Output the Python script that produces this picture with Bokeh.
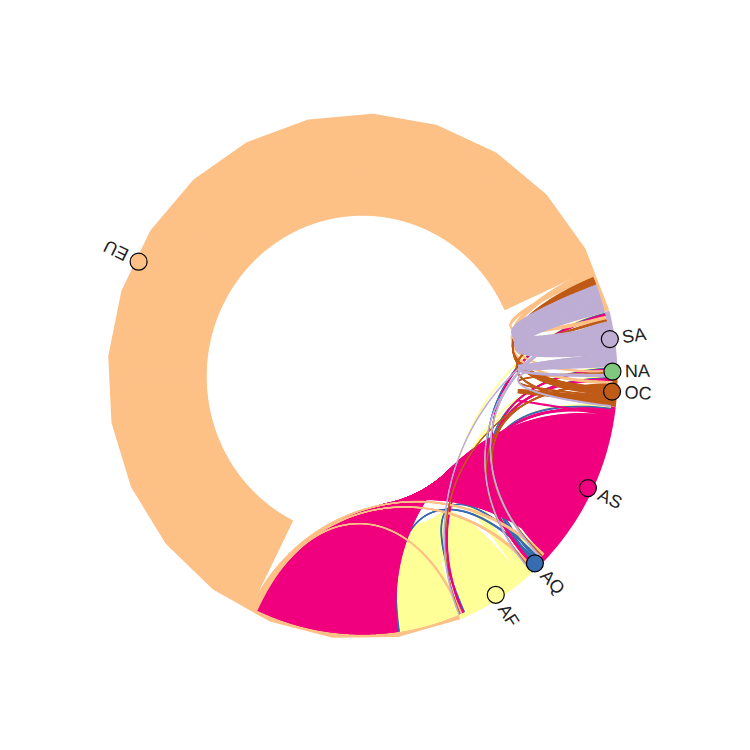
import numpy as np
from bokeh.plotting import figure
from bokeh.core.properties import value
from bokeh.embed import file_html
from bokeh.resources import INLINE

# ---- data -------------------------------------------------------------
nodes = ["NA", "SA", "EU", "AF", "AQ", "AS", "OC"]
node_colors = ["#7fc97f", "#beaed4", "#fdc086", "#ffff99", "#386cb0", "#f0027f", "#bf5b17"]

sources = ["AF", "AF", "AF", "AF", "AF", "AF", "AF",
           "AQ", "AQ", "AQ", "AQ", "AQ", "AQ", "AQ",
           "AS", "AS", "AS", "AS", "AS", "AS", "AS",
           "EU", "EU", "EU", "EU", "EU", "EU", "EU",
           "OC", "OC", "OC", "OC", "OC", "OC", "OC",
           "SA", "SA", "SA", "SA", "SA", "SA", "SA"]
targets = ["AF", "AQ", "AS", "EU", "NA", "OC", "SA",
           "AF", "AQ", "AS", "EU", "NA", "OC", "SA",
           "AF", "AQ", "AS", "EU", "NA", "OC", "SA",
           "AF", "AQ", "AS", "EU", "NA", "OC", "SA",
           "AF", "AQ", "AS", "EU", "NA", "OC", "SA",
           "AF", "AQ", "AS", "EU", "NA", "OC", "SA"]
values = [9, 3, 4, 142, 3, 3, 3,
          3, 1, 3, 4, 2, 2, 2,
          4, 6, 2, 331, 4, 6, 5,
          4, 6, 6, 1096, 4, 6, 8,
          2, 2, 3, 18, 3, 7, 5,
          2, 2, 3, 64, 6, 3, 10]

# ---- chord layout -----------------------------------------------------
n = len(nodes)
idx = {k: i for i, k in enumerate(nodes)}
matrix = np.zeros((n, n))
for s, t, v in zip(sources, targets, values):
    matrix[idx[s], idx[t]] += v
weights = matrix.sum(axis=0) + matrix.sum(axis=1)
areas = weights / weights.sum() * 2 * np.pi
points = np.zeros(n + 1)
points[1:] = areas
points = points.cumsum()
mids = np.convolve(points, [0.5, 0.5], mode="valid")
nx, ny = np.cos(mids), np.sin(mids)

all_areas = []
for i in range(n):
    ang = np.linspace(points[i], points[i + 1], int(weights[i]))
    all_areas.append(list(zip(np.cos(ang), np.sin(ang))))


def bezier(start, end, c0, c1, steps=50):
    t = np.linspace(0, 1, steps)
    xs = ((1 - t) ** 3 * start[0] + 3 * (1 - t) ** 2 * t * c0[0]
          + 3 * (1 - t) * t ** 2 * c1[0] + t ** 3 * end[0])
    ys = ((1 - t) ** 3 * start[1] + 3 * (1 - t) ** 2 * t * c0[1]
          + 3 * (1 - t) * t ** 2 * c1[1] + t ** 3 * end[1])
    return xs, ys


exs, eys, ecols = [], [], []
for s, t, v in zip(sources, targets, values):
    sa, ta = all_areas[idx[s]], all_areas[idx[t]]
    for _ in range(int(v)):
        if not sa or not ta:
            continue
        x0, y0 = sa.pop()
        if not ta:
            continue
        x1, y1 = ta.pop()
        bx, by = bezier((x0, y0), (x1, y1), (x0 / 2.0, y0 / 2.0), (x1 / 2.0, y1 / 2.0))
        exs.append(bx)
        eys.append(by)
        ecols.append(node_colors[idx[s]])

arc_xs, arc_ys = [], []
for i in range(n):
    a = np.linspace(points[i], points[i + 1], 20)
    arc_xs.append(np.cos(a))
    arc_ys.append(np.sin(a))

# ---- figure -----------------------------------------------------------
p = figure(width=734, height=734, output_backend="svg", toolbar_location=None,
           x_range=(-1.448, 1.488), y_range=(-1.3876, 1.4574), min_border=0)
p.axis.visible = False
p.grid.visible = False
p.outline_line_color = None

p.multi_line(xs=arc_xs, ys=arc_ys, line_color=node_colors, line_width=10)
p.multi_line(xs=exs, ys=eys, line_color=ecols, line_width=1.2)
p.scatter(x=nx, y=ny, size=17, fill_color=node_colors, line_color="black", line_width=1.2)
p.text(x=nx * 1.05, y=ny * 1.05, text=nodes, angle=np.arctan2(ny, nx),
       text_baseline="middle", text_align="left", text_font_size="18px",
       text_color="#222222", text_font=value("Liberation Sans"))

open("out.html", "w").write(file_html(p, INLINE))
